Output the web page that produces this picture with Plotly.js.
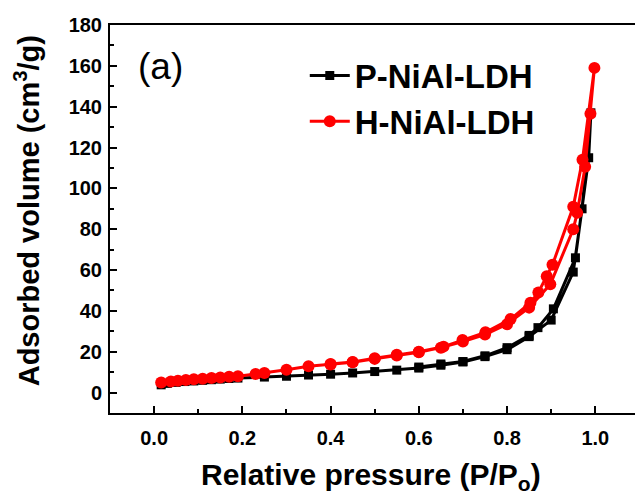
<!DOCTYPE html>
<html>
<head>
<meta charset="utf-8">
<script src="https://cdn.plot.ly/plotly-3.0.1.min.js"></script>
<style>html,body{margin:0;padding:0;background:#fff;}#chart{width:635px;height:495px;}</style>
</head>
<body>
<div id="chart"></div>
<script>
// P-NiAl-LDH: adsorption then desorption branch
const pP = [0.016,0.03,0.05,0.07,0.09,0.11,0.13,0.15,0.17,0.19,0.25,0.3,0.35,0.4,0.45,0.5,0.55,0.6,0.65,0.7,0.75,0.8,0.85,0.9,0.95,0.97,0.99,
            0.985,0.955,0.905,0.87,0.85,0.8,0.75,0.7,0.65,0.6];
const vP = [3.8,4.5,5.0,5.4,5.7,6.0,6.3,6.6,6.9,7.1,7.6,8.0,8.6,9.0,9.6,10.3,11.0,12.0,13.4,15.0,17.6,21.0,27.4,35.5,59,90,137,
            115,66,41,31.8,28,22,18,15.2,14,12.5];
// H-NiAl-LDH: adsorption then desorption branch
const pH = [0.016,0.038,0.054,0.072,0.09,0.11,0.13,0.15,0.17,0.19,0.23,0.25,0.3,0.35,0.4,0.45,0.5,0.55,0.6,0.65,0.7,0.75,0.8,0.85,0.898,0.95,0.959,0.977,0.989,0.998,
            0.971,0.95,0.903,0.89,0.871,0.853,0.808,0.751,0.699,0.656,0.6,0.55,0.5,0.45,0.4];
const vH = [4.9,5.4,5.8,6.2,6.5,6.8,7.1,7.4,7.7,8.0,9.1,9.6,11.2,12.9,13.7,14.8,16.5,18.1,19.7,22,25,28.4,33.5,41.6,53,80,88,110.6,136.5,159,
            114,91,62.6,57,49,44,36,29.5,25.8,22.5,20,18.5,16.8,15,14];
const seriesNames = ["P-NiAl-LDH","H-NiAl-LDH"];
const xTicks = [0.0,0.2,0.4,0.6,0.8,1.0];
const xTickText = ["0.0","0.2","0.4","0.6","0.8","1.0"];
const yTicks = [0,20,40,60,80,100,120,140,160,180];
const xTitle = "Relative pressure (P/P<sub>o</sub>)";
const yTitle = "Adsorbed volume (cm<sup>3</sup>/g)";
const panelLabel = "(a)";

const FONT = "Liberation Sans, Arial, sans-serif";
const traces = [
  {x:pP, y:vP, name:seriesNames[0], mode:"lines+markers", type:"scatter",
   line:{color:"#000000", width:3}, marker:{symbol:"square", size:9, color:"#000000"}},
  {x:pH, y:vH, name:seriesNames[1], mode:"lines+markers", type:"scatter",
   line:{color:"#ff0000", width:3}, marker:{symbol:"circle", size:12, color:"#ff0000"}}
];
const axisCommon = {
  showgrid:false, zeroline:false, showline:true, linecolor:"#000", linewidth:2,
  ticks:"inside", ticklen:7, tickwidth:2, tickcolor:"#000",
  tickfont:{family:FONT, size:20, color:"#000", weight:"bold"}
};
const layout = {
  width:635, height:495,
  margin:{l:110, r:0, t:25, b:82},
  paper_bgcolor:"#fff", plot_bgcolor:"#fff",
  showlegend:true,
  legend:{x:0.371, y:0.942, xanchor:"left", yanchor:"top", bgcolor:"rgba(0,0,0,0)",
          font:{family:FONT, size:33, color:"#000", weight:"bold"}, tracegroupgap:0, itemwidth:40},
  xaxis:Object.assign({}, axisCommon, {
    range:[-0.1, 1.09], tickvals:xTicks, ticktext:xTickText, mirror:true, ticklabelstandoff:6,
    minor:{dtick:0.1, tick0:0, ticks:"inside", ticklen:4, tickwidth:2, tickcolor:"#000"}
  }),
  yaxis:Object.assign({}, axisCommon, {
    range:[-10, 180], tickvals:yTicks, mirror:false, ticklabelstandoff:2,
    minor:{dtick:10, tick0:0, ticks:"inside", ticklen:4, tickwidth:2, tickcolor:"#000"}
  }),
  annotations:[
    {text:panelLabel, xref:"paper", yref:"paper", x:0.05, y:0.893, xanchor:"left", yanchor:"middle",
     showarrow:false, font:{family:FONT, size:37, color:"#000"}},
    {text:xTitle, xref:"paper", yref:"paper", x:0.497, y:-0.163, xanchor:"center", yanchor:"middle",
     showarrow:false, font:{family:FONT, size:30, color:"#000", weight:"bold"}},
    {text:yTitle, xref:"paper", yref:"paper", x:-0.158, y:0.52, xanchor:"center", yanchor:"middle",
     textangle:-90, showarrow:false, font:{family:FONT, size:29, color:"#000", weight:"bold"}}
  ]
};
Plotly.newPlot("chart", traces, layout, {displayModeBar:false, staticPlot:true});
</script>
</body>
</html>
